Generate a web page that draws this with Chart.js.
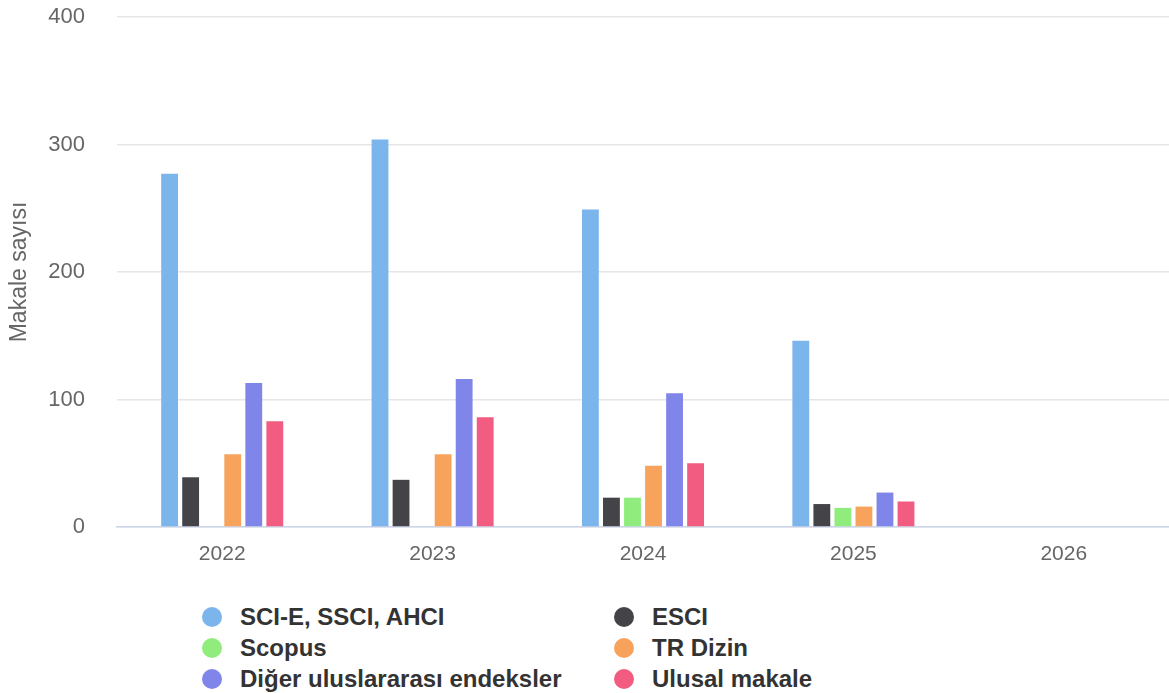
<!DOCTYPE html>
<html lang="tr">
<head>
<meta charset="utf-8">
<script src="https://cdn.jsdelivr.net/npm/chart.js@4/dist/chart.umd.min.js"></script>
<style>
  html, body { margin: 0; padding: 0; background: #fff; }
  body { width: 1169px; height: 693px; position: relative; overflow: hidden;
         font-family: "Liberation Sans", Arial, sans-serif; }
  #wrap { position: absolute; left: 0; top: 0; width: 1169px; height: 577px; }
  #legend { position: absolute; left: 202px; top: 605px; display: grid;
            grid-template-columns: 412px 260px; row-gap: 7px; }
  .item { display: flex; align-items: center; height: 24px;
          font-weight: bold; font-size: 24px; color: #333; }
  .dot { width: 20px; height: 20px; border-radius: 50%; margin-right: 18px; flex: none; }
</style>
</head>
<body>
<div id="wrap"><canvas id="chart"></canvas></div>
<div id="legend"></div>
<script>
// Yıllara göre endeks türlerine dağılmış makale sayıları
const years = ['2022', '2023', '2024', '2025', '2026'];
const sciValues    = [277, 304, 249, 146, 0];
const esciValues   = [39, 37, 23, 18, 0];
const scopusValues = [0, 0, 23, 15, 0];
const trDizin      = [57, 57, 48, 16, 0];
const digerValues  = [113, 116, 105, 27, 0];
const ulusalValues = [83, 86, 50, 20, 0];
const yTicks = [0, 100, 200, 300, 400];

const seriesNames  = ['SCI-E, SSCI, AHCI', 'ESCI', 'Scopus', 'TR Dizin', 'Diğer uluslararası endeksler', 'Ulusal makale'];
const seriesColors = ['#7cb5ec', '#434348', '#90ed7d', '#f7a35c', '#8085e9', '#f15c80'];
const seriesData   = [sciValues, esciValues, scopusValues, trDizin, digerValues, ulusalValues];

const datasets = seriesNames.map((name, i) => ({
  label: name,
  data: seriesData[i],
  backgroundColor: seriesColors[i],
  borderWidth: 0,
  barPercentage: 0.8,
  categoryPercentage: 0.6
}));

const font = '"Liberation Sans", Arial, sans-serif';

new Chart(document.getElementById('chart'), {
  type: 'bar',
  data: { labels: years, datasets },
  options: {
    responsive: true,
    maintainAspectRatio: false,
    animation: false,
    layout: { padding: 0 },
    plugins: { legend: { display: false }, tooltip: { enabled: false } },
    scales: {
      x: {
        grid: { display: false, drawTicks: false },
        border: { display: true, color: '#ccd6eb', width: 1.5 },
        ticks: { color: '#666', font: { family: font, size: 21 }, padding: 15 },
        afterFit: s => { s.height = 50; }
      },
      y: {
        min: 0, max: 400,
        afterBuildTicks: s => { s.ticks = yTicks.map(v => ({ value: v })); },
        grid: { color: '#e6e6e6', lineWidth: 1.5, drawTicks: false },
        border: { display: false },
        ticks: { color: '#666', font: { family: font, size: 22 }, padding: 32 },
        title: { display: true, text: 'Makale sayısı', color: '#666',
                 font: { family: font, size: 23 }, padding: { top: 6, bottom: 0 } },
        afterFit: s => { s.width = 117; s.paddingTop = 17; }
      }
    }
  }
});

// İki sütunlu açıklama
const legend = document.getElementById('legend');
seriesNames.forEach((name, i) => {
  const item = document.createElement('div');
  item.className = 'item';
  const dot = document.createElement('span');
  dot.className = 'dot';
  dot.style.background = seriesColors[i];
  item.appendChild(dot);
  item.appendChild(document.createTextNode(name));
  legend.appendChild(item);
});
</script>
</body>
</html>
